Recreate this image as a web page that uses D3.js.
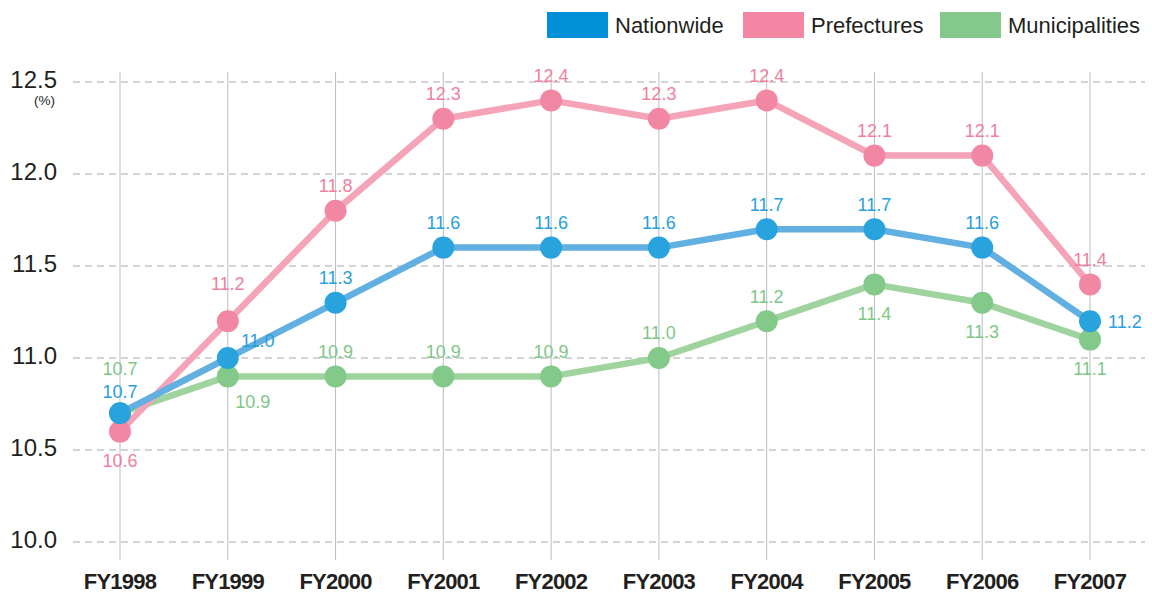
<!DOCTYPE html>
<html>
<head>
<meta charset="utf-8">
<script src="https://cdn.jsdelivr.net/npm/d3@7"></script>
<style>
  html, body { margin: 0; padding: 0; background: #fff; }
  svg { display: block; }
</style>
</head>
<body>
<div id="chart"></div>
<script>
// Fiscal years on the x axis
const years = ["FY1998", "FY1999", "FY2000", "FY2001", "FY2002", "FY2003", "FY2004", "FY2005", "FY2006", "FY2007"];

// Ratio (%) per series
const nationwide     = [10.7, 11.0, 11.3, 11.6, 11.6, 11.6, 11.7, 11.7, 11.6, 11.2];
const prefectures    = [10.6, 11.2, 11.8, 12.3, 12.4, 12.3, 12.4, 12.1, 12.1, 11.4];
const municipalities = [10.7, 10.9, 10.9, 10.9, 10.9, 11.0, 11.2, 11.4, 11.3, 11.1];

// Y axis ticks
const yTicks = [10.0, 10.5, 11.0, 11.5, 12.0, 12.5];

// Where each value label sits relative to its point
const nationwidePlace     = ["uplow", "upright", "up", "up", "up", "up", "up", "up", "up", "right"];
const prefecturesPlace    = ["down", "upmid", "up", "up", "up", "up", "up", "up", "up", "up"];
const municipalitiesPlace = ["uphigh", "downright", "up", "up", "up", "up", "up", "down", "down", "down"];

const W = 1152, H = 594;
const svg = d3.select("#chart").append("svg").attr("width", W).attr("height", H);

const x = d3.scalePoint().domain(years).range([120, 1090]);
const y = d3.scaleLinear().domain([10.0, 12.5]).range([542, 82]);

const font = "'Liberation Sans', Arial, sans-serif";

// Vertical gridlines at each year
svg.append("g").selectAll("line").data(years).join("line")
  .attr("x1", d => x(d)).attr("x2", d => x(d))
  .attr("y1", 72).attr("y2", 560)
  .attr("stroke", "#bdbdbd").attr("stroke-width", 1);

// Horizontal dashed gridlines
svg.append("g").selectAll("line").data(yTicks).join("line")
  .attr("x1", 73).attr("x2", 1145)
  .attr("y1", d => y(d)).attr("y2", d => y(d))
  .attr("stroke", "#a9a9a9").attr("stroke-width", 1.2)
  .attr("stroke-dasharray", "7,5");

// Y tick labels
svg.append("g").selectAll("text").data(yTicks).join("text")
  .attr("x", 57).attr("y", d => y(d) + 6)
  .attr("text-anchor", "end")
  .attr("font-family", font).attr("font-size", 24)
  .attr("fill", "#231f20")
  .text(d => d3.format(".1f")(d));

svg.append("text")
  .attr("x", 55).attr("y", 105)
  .attr("text-anchor", "end")
  .attr("font-family", font).attr("font-size", 13.5)
  .attr("fill", "#231f20")
  .text("(%)");

// X tick labels
svg.append("g").selectAll("text").data(years).join("text")
  .attr("x", d => x(d)).attr("y", 589)
  .attr("text-anchor", "middle")
  .attr("font-family", font).attr("font-size", 22).attr("font-weight", "bold")
  .attr("letter-spacing", -0.8)
  .attr("fill", "#231f20")
  .text(d => d);

const series = [
  { name: "Municipalities", values: municipalities, place: municipalitiesPlace, line: "#9fd49f", dot: "#82c98a", label: "#7fc787", key: "#84c98b" },
  { name: "Prefectures",    values: prefectures,    place: prefecturesPlace,    line: "#f5a3b6", dot: "#f287a3", label: "#f07f9d", key: "#f386a2" },
  { name: "Nationwide",     values: nationwide,     place: nationwidePlace,     line: "#62afe1", dot: "#28a3dd", label: "#27a0dc", key: "#0090d8" }
];

const lineGen = d3.line().x((d, i) => x(years[i])).y(d => y(d));

const lines = svg.append("g");
const dots = svg.append("g");
const labels = svg.append("g");

series.forEach(s => {
  lines.append("path")
    .datum(s.values)
    .attr("d", lineGen)
    .attr("fill", "none")
    .attr("stroke", s.line)
    .attr("stroke-width", 6.5)
    .attr("stroke-linejoin", "round");
});

series.forEach(s => {
  dots.selectAll(null).data(s.values).join("circle")
    .attr("cx", (d, i) => x(years[i]))
    .attr("cy", d => y(d))
    .attr("r", 11)
    .attr("fill", s.dot);
});

const offsets = {
  up:        { dx: 0,  dy: -25, anchor: "middle" },
  uplow:     { dx: 0,  dy: -22, anchor: "middle" },
  upmid:     { dx: 0,  dy: -38, anchor: "middle" },
  uphigh:    { dx: 0,  dy: -45, anchor: "middle" },
  down:      { dx: 0,  dy: 29,  anchor: "middle" },
  upright:   { dx: 30, dy: -17, anchor: "middle" },
  downright: { dx: 25, dy: 25,  anchor: "middle" },
  right:     { dx: 18, dy: 0,   anchor: "start" }
};

series.forEach(s => {
  labels.selectAll(null).data(s.values).join("text")
    .attr("x", (d, i) => x(years[i]) + offsets[s.place[i]].dx)
    .attr("y", (d, i) => y(d) + offsets[s.place[i]].dy)
    .attr("dy", "0.35em")
    .attr("text-anchor", (d, i) => offsets[s.place[i]].anchor)
    .attr("font-family", font).attr("font-size", 18)
    .attr("fill", s.label)
    .text(d => d3.format(".1f")(d));
});

// Legend
const legendItems = [
  { name: "Nationwide", color: series[2].key, x: 547 },
  { name: "Prefectures", color: series[1].key, x: 743 },
  { name: "Municipalities", color: series[0].key, x: 940 }
];
const legend = svg.append("g");
legendItems.forEach(it => {
  legend.append("rect")
    .attr("x", it.x).attr("y", 12).attr("width", 61).attr("height", 26)
    .attr("fill", it.color);
  legend.append("text")
    .attr("x", it.x + 68).attr("y", 33)
    .attr("font-family", font).attr("font-size", 22)
    .attr("fill", "#231f20")
    .text(it.name);
});
</script>
</body>
</html>
